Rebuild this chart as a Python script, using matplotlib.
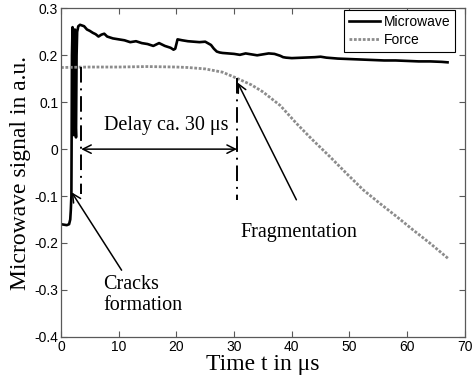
import matplotlib
matplotlib.use('Agg')
import matplotlib.pyplot as plt

# microwave signal
mw_t = [0, 0.5, 1.0, 1.4, 1.6, 1.7, 1.8, 1.85, 1.9, 2.0, 2.1, 2.2, 2.3, 2.4, 2.5, 2.6,
        2.7, 2.8, 3.0, 3.3, 4.0, 4.5, 5.0, 5.5, 6.0, 6.5, 7.0, 7.5, 8.0, 8.5, 9.0,
        10.0, 11.0, 12.0, 13.0, 14.0, 15.0, 16.0, 17.0, 18.0, 18.5, 19.0, 19.5,
        19.8, 20.2, 21.0, 22.0, 23.0, 24.0, 25.0, 26.0, 26.5, 27.0, 27.5, 28.0,
        29.0, 30.0, 31.0, 32.0, 33.0, 34.0, 35.0, 36.0, 37.0, 38.0, 38.5, 39.0,
        40.0, 42.0, 44.0, 45.0, 46.0, 48.0, 50.0, 52.0, 54.0, 56.0, 58.0, 60.0,
        62.0, 64.0, 66.0, 67.0]
mw_v = [-0.160, -0.161, -0.162, -0.160, -0.150, -0.130, -0.100, 0.050, 0.200, 0.260,
        0.120, 0.030, 0.150, 0.255, 0.060, 0.025, 0.200, 0.250, 0.262, 0.265,
        0.262, 0.255, 0.252, 0.248, 0.245, 0.240, 0.244, 0.246, 0.240, 0.238,
        0.236, 0.234, 0.232, 0.228, 0.230, 0.226, 0.224, 0.220, 0.226, 0.220,
        0.218, 0.216, 0.212, 0.214, 0.234, 0.232, 0.230, 0.229, 0.228, 0.229,
        0.222, 0.214, 0.208, 0.206, 0.205, 0.204, 0.203, 0.201, 0.204, 0.202,
        0.200, 0.202, 0.204, 0.203, 0.199, 0.196, 0.195, 0.194, 0.195, 0.196,
        0.197, 0.195, 0.193, 0.192, 0.191, 0.190, 0.189, 0.189, 0.188, 0.187,
        0.187, 0.186, 0.185]

# force signal
f_t = [0, 5, 10, 15, 20, 22, 25, 28, 30.5, 33, 35, 38, 40.8, 43.5, 46.6, 49.5,
       52.4, 55.3, 58.2, 61, 64, 67.1]
f_v = [0.174, 0.175, 0.175, 0.176, 0.175, 0.174, 0.171, 0.164, 0.151, 0.137,
       0.122, 0.093, 0.055, 0.021, -0.016, -0.052, -0.087, -0.116, -0.144,
       -0.172, -0.201, -0.233]

# annotation positions (data units)
t_crack = 3.5
t_frag = 30.5

serif = 'Liberation Serif'
sans = 'Liberation Sans'

fig = plt.figure(figsize=(4.74, 3.81), dpi=100)
ax = fig.add_axes([0.1287, 0.116, 0.852, 0.862])

ax.plot(mw_t, mw_v, color='black', lw=1.9, label='Microwave')
ax.plot(f_t, f_v, color='0.55', lw=2.0, ls=(0, (1, 0.6)), label='Force')

# vertical dash-dot markers
ax.plot([t_crack, t_crack], [0.175, -0.095], color='black', lw=1.4,
        ls=(0, (8, 3, 1, 3)))
ax.plot([t_frag, t_frag], [0.152, -0.108], color='black', lw=1.4,
        ls=(0, (8, 3, 1, 3)))

# delay arrow
ax.annotate('', xy=(t_crack, 0.0), xytext=(t_frag, 0.0),
            arrowprops=dict(arrowstyle='<->', lw=1.1, color='black',
                            mutation_scale=15, shrinkA=0, shrinkB=0))
ax.text(18.2, 0.05, 'Delay ca. 30 \u03bcs', family=serif, fontsize=14.5,
        ha='center', va='center')

# fragmentation
ax.annotate('', xy=(30.6, 0.142), xytext=(40.8, -0.108),
            arrowprops=dict(arrowstyle='->', lw=1.1, color='black',
                            mutation_scale=15, shrinkA=0, shrinkB=0))
ax.text(41.2, -0.178, 'Fragmentation', family=serif, fontsize=14.5,
        ha='center', va='center')

# cracks
ax.annotate('', xy=(1.85, -0.092), xytext=(10.5, -0.258),
            arrowprops=dict(arrowstyle='->', lw=1.1, color='black',
                            mutation_scale=15, shrinkA=0, shrinkB=0))
ax.text(7.3, -0.311, 'Cracks\nformation', family=serif, fontsize=14.5,
        ha='left', va='center', linespacing=1.2)

ax.set_xlim(0, 70)
ax.set_ylim(-0.4, 0.3)
ax.set_xticks(range(0, 71, 10))
ax.set_yticks([-0.4, -0.3, -0.2, -0.1, 0, 0.1, 0.2, 0.3])
ax.set_yticklabels(['-0.4', '-0.3', '-0.2', '-0.1', '0', '0.1', '0.2', '0.3'])
ax.tick_params(direction='in', top=True, right=True, length=4, width=0.8,
               color='0.35', labelsize=10, pad=2)
for lab in ax.get_xticklabels() + ax.get_yticklabels():
    lab.set_family(sans)
for s in ax.spines.values():
    s.set_color('0.35')
    s.set_linewidth(0.9)

ax.set_xlabel('Time t in \u03bcs', family=serif, fontsize=17, labelpad=0)
ax.set_ylabel('Microwave signal in a.u.', family=serif, fontsize=17, labelpad=2)

leg = ax.legend(loc='upper right', bbox_to_anchor=(0.976, 0.996),
                prop={'family': sans, 'size': 10}, fancybox=False,
                framealpha=1, edgecolor='black', handlelength=2.2,
                borderpad=0.35, labelspacing=0.3, handletextpad=0.3,
                borderaxespad=0)
leg.get_frame().set_linewidth(0.8)

fig.savefig('out.png', dpi=100)
